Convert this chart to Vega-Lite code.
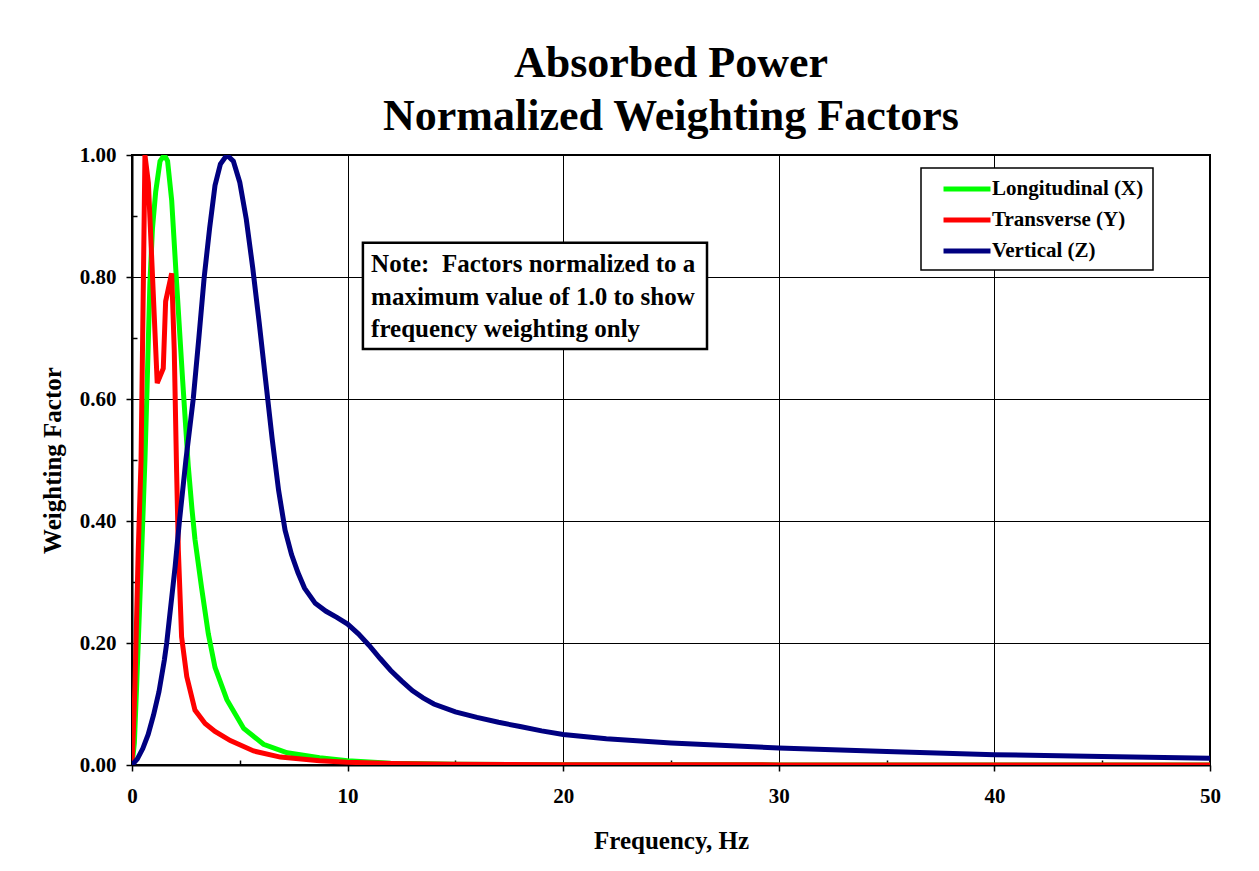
{
  "$schema": "https://vega.github.io/schema/vega-lite/v6.json",
  "width": 1078,
  "height": 610,
  "autosize": {"type": "none"},
  "padding": {"left": 132, "top": 155, "right": 49, "bottom": 106},
  "background": "white",
  "title": {
    "text": ["Absorbed Power", "Normalized Weighting Factors"],
    "font": "Liberation Serif",
    "fontSize": 44,
    "fontWeight": "bold",
    "lineHeight": 53,
    "anchor": "middle",
    "offset": 5,
    "color": "#000"
  },
  "datasets": {
    "curves": [
      {"f": 0, "w": 0, "series": "Longitudinal (X)"},
      {"f": 0.11, "w": 0.036, "series": "Longitudinal (X)"},
      {"f": 0.22, "w": 0.134, "series": "Longitudinal (X)"},
      {"f": 0.45, "w": 0.352, "series": "Longitudinal (X)"},
      {"f": 0.6, "w": 0.5, "series": "Longitudinal (X)"},
      {"f": 0.7, "w": 0.62, "series": "Longitudinal (X)"},
      {"f": 0.83, "w": 0.79, "series": "Longitudinal (X)"},
      {"f": 0.95, "w": 0.88, "series": "Longitudinal (X)"},
      {"f": 1.1, "w": 0.94, "series": "Longitudinal (X)"},
      {"f": 1.3, "w": 0.99, "series": "Longitudinal (X)"},
      {"f": 1.5, "w": 1.0, "series": "Longitudinal (X)"},
      {"f": 1.65, "w": 0.99, "series": "Longitudinal (X)"},
      {"f": 1.84, "w": 0.926, "series": "Longitudinal (X)"},
      {"f": 2.07, "w": 0.79, "series": "Longitudinal (X)"},
      {"f": 2.35, "w": 0.63, "series": "Longitudinal (X)"},
      {"f": 2.61, "w": 0.49, "series": "Longitudinal (X)"},
      {"f": 2.78, "w": 0.42, "series": "Longitudinal (X)"},
      {"f": 2.92, "w": 0.37, "series": "Longitudinal (X)"},
      {"f": 3.23, "w": 0.29, "series": "Longitudinal (X)"},
      {"f": 3.54, "w": 0.215, "series": "Longitudinal (X)"},
      {"f": 3.85, "w": 0.16, "series": "Longitudinal (X)"},
      {"f": 4.4, "w": 0.107, "series": "Longitudinal (X)"},
      {"f": 5.18, "w": 0.06, "series": "Longitudinal (X)"},
      {"f": 6.1, "w": 0.034, "series": "Longitudinal (X)"},
      {"f": 7.2, "w": 0.02, "series": "Longitudinal (X)"},
      {"f": 8.7, "w": 0.012, "series": "Longitudinal (X)"},
      {"f": 10, "w": 0.007, "series": "Longitudinal (X)"},
      {"f": 12, "w": 0.003, "series": "Longitudinal (X)"},
      {"f": 15, "w": 0.0012, "series": "Longitudinal (X)"},
      {"f": 20, "w": 0.0005, "series": "Longitudinal (X)"},
      {"f": 30, "w": 0.0002, "series": "Longitudinal (X)"},
      {"f": 50, "w": 0.0001, "series": "Longitudinal (X)"},

      {"f": 0, "w": 0, "series": "Transverse (Y)"},
      {"f": 0.07, "w": 0.06, "series": "Transverse (Y)"},
      {"f": 0.14, "w": 0.134, "series": "Transverse (Y)"},
      {"f": 0.29, "w": 0.352, "series": "Transverse (Y)"},
      {"f": 0.42, "w": 0.5, "series": "Transverse (Y)"},
      {"f": 0.53, "w": 0.8, "series": "Transverse (Y)"},
      {"f": 0.6, "w": 1.0, "series": "Transverse (Y)"},
      {"f": 0.76, "w": 0.954, "series": "Transverse (Y)"},
      {"f": 1.17, "w": 0.626, "series": "Transverse (Y)"},
      {"f": 1.45, "w": 0.65, "series": "Transverse (Y)"},
      {"f": 1.56, "w": 0.76, "series": "Transverse (Y)"},
      {"f": 1.84, "w": 0.806, "series": "Transverse (Y)"},
      {"f": 1.96, "w": 0.68, "series": "Transverse (Y)"},
      {"f": 2.07, "w": 0.48, "series": "Transverse (Y)"},
      {"f": 2.15, "w": 0.352, "series": "Transverse (Y)"},
      {"f": 2.3, "w": 0.21, "series": "Transverse (Y)"},
      {"f": 2.54, "w": 0.145, "series": "Transverse (Y)"},
      {"f": 2.92, "w": 0.09, "series": "Transverse (Y)"},
      {"f": 3.39, "w": 0.068, "series": "Transverse (Y)"},
      {"f": 3.85, "w": 0.055, "series": "Transverse (Y)"},
      {"f": 4.56, "w": 0.04, "series": "Transverse (Y)"},
      {"f": 5.64, "w": 0.023, "series": "Transverse (Y)"},
      {"f": 6.88, "w": 0.013, "series": "Transverse (Y)"},
      {"f": 8.7, "w": 0.007, "series": "Transverse (Y)"},
      {"f": 10, "w": 0.0045, "series": "Transverse (Y)"},
      {"f": 12, "w": 0.0025, "series": "Transverse (Y)"},
      {"f": 15, "w": 0.0012, "series": "Transverse (Y)"},
      {"f": 20, "w": 0.0006, "series": "Transverse (Y)"},
      {"f": 30, "w": 0.0002, "series": "Transverse (Y)"},
      {"f": 50, "w": 0.0001, "series": "Transverse (Y)"},

      {"f": 0, "w": 0, "series": "Vertical (Z)"},
      {"f": 0.25, "w": 0.01, "series": "Vertical (Z)"},
      {"f": 0.5, "w": 0.027, "series": "Vertical (Z)"},
      {"f": 0.75, "w": 0.05, "series": "Vertical (Z)"},
      {"f": 1.0, "w": 0.082, "series": "Vertical (Z)"},
      {"f": 1.25, "w": 0.12, "series": "Vertical (Z)"},
      {"f": 1.5, "w": 0.172, "series": "Vertical (Z)"},
      {"f": 1.61, "w": 0.2, "series": "Vertical (Z)"},
      {"f": 1.75, "w": 0.245, "series": "Vertical (Z)"},
      {"f": 2.0, "w": 0.325, "series": "Vertical (Z)"},
      {"f": 2.2, "w": 0.4, "series": "Vertical (Z)"},
      {"f": 2.5, "w": 0.5, "series": "Vertical (Z)"},
      {"f": 2.84, "w": 0.6, "series": "Vertical (Z)"},
      {"f": 3.1, "w": 0.7, "series": "Vertical (Z)"},
      {"f": 3.35, "w": 0.8, "series": "Vertical (Z)"},
      {"f": 3.6, "w": 0.88, "series": "Vertical (Z)"},
      {"f": 3.85, "w": 0.95, "series": "Vertical (Z)"},
      {"f": 4.1, "w": 0.985, "series": "Vertical (Z)"},
      {"f": 4.4, "w": 1.0, "series": "Vertical (Z)"},
      {"f": 4.7, "w": 0.99, "series": "Vertical (Z)"},
      {"f": 5.0, "w": 0.955, "series": "Vertical (Z)"},
      {"f": 5.3, "w": 0.895, "series": "Vertical (Z)"},
      {"f": 5.6, "w": 0.815, "series": "Vertical (Z)"},
      {"f": 5.9, "w": 0.725, "series": "Vertical (Z)"},
      {"f": 6.2, "w": 0.63, "series": "Vertical (Z)"},
      {"f": 6.5, "w": 0.535, "series": "Vertical (Z)"},
      {"f": 6.8, "w": 0.45, "series": "Vertical (Z)"},
      {"f": 7.1, "w": 0.385, "series": "Vertical (Z)"},
      {"f": 7.4, "w": 0.345, "series": "Vertical (Z)"},
      {"f": 7.7, "w": 0.315, "series": "Vertical (Z)"},
      {"f": 8.0, "w": 0.29, "series": "Vertical (Z)"},
      {"f": 8.5, "w": 0.265, "series": "Vertical (Z)"},
      {"f": 9.0, "w": 0.252, "series": "Vertical (Z)"},
      {"f": 9.5, "w": 0.242, "series": "Vertical (Z)"},
      {"f": 10, "w": 0.231, "series": "Vertical (Z)"},
      {"f": 10.5, "w": 0.215, "series": "Vertical (Z)"},
      {"f": 11, "w": 0.196, "series": "Vertical (Z)"},
      {"f": 11.5, "w": 0.175, "series": "Vertical (Z)"},
      {"f": 12, "w": 0.155, "series": "Vertical (Z)"},
      {"f": 12.5, "w": 0.138, "series": "Vertical (Z)"},
      {"f": 13, "w": 0.122, "series": "Vertical (Z)"},
      {"f": 13.5, "w": 0.11, "series": "Vertical (Z)"},
      {"f": 14, "w": 0.1, "series": "Vertical (Z)"},
      {"f": 15, "w": 0.087, "series": "Vertical (Z)"},
      {"f": 16, "w": 0.078, "series": "Vertical (Z)"},
      {"f": 17, "w": 0.07, "series": "Vertical (Z)"},
      {"f": 18, "w": 0.063, "series": "Vertical (Z)"},
      {"f": 19, "w": 0.056, "series": "Vertical (Z)"},
      {"f": 20, "w": 0.05, "series": "Vertical (Z)"},
      {"f": 22, "w": 0.043, "series": "Vertical (Z)"},
      {"f": 25, "w": 0.036, "series": "Vertical (Z)"},
      {"f": 30, "w": 0.028, "series": "Vertical (Z)"},
      {"f": 35, "w": 0.022, "series": "Vertical (Z)"},
      {"f": 40, "w": 0.017, "series": "Vertical (Z)"},
      {"f": 45, "w": 0.014, "series": "Vertical (Z)"},
      {"f": 50, "w": 0.011, "series": "Vertical (Z)"}
    ],
    "note": [
      {"x1": 10.71, "x2": 26.67, "y1": 0.682, "y2": 0.856, "tx": 11.09, "ty": 0.808,
       "text": "Note:\u00a0 Factors normalized to a\nmaximum value of 1.0 to show\nfrequency weighting only"}
    ]
  },
  "layer": [
    {
      "data": {"name": "curves"},
      "mark": {"type": "line", "strokeWidth": 5, "clip": true, "interpolate": "linear"},
      "encoding": {
        "x": {
          "field": "f", "type": "quantitative",
          "scale": {"domain": [0, 50], "nice": false},
          "axis": {
            "title": "Frequency, Hz",
            "values": [0, 5, 10, 15, 20, 25, 30, 35, 40, 45, 50],
            "labelExpr": "datum.value % 10 === 0 ? datum.label : ''",
            "labelFlush": false,
            "gridOpacity": {"condition": {"test": "datum.value % 10 === 0", "value": 1}, "value": 0},
            "tickSize": {"condition": {"test": "datum.value % 10 === 0", "value": 6}, "value": -5},
            "labelPadding": 14,
            "titlePadding": 22
          }
        },
        "y": {
          "field": "w", "type": "quantitative",
          "scale": {"domain": [0, 1], "nice": false},
          "axis": {
            "title": "Weighting Factor",
            "values": [0, 0.1, 0.2, 0.3, 0.4, 0.5, 0.6, 0.7, 0.8, 0.9, 1.0],
            "labelExpr": "round(datum.value * 10) % 2 === 0 ? format(datum.value, '.2f') : ''",
            "labelFlush": false,
            "gridOpacity": {"condition": {"test": "round(datum.value * 10) % 2 === 0", "value": 1}, "value": 0},
            "tickSize": {"condition": {"test": "round(datum.value * 10) % 2 === 0", "value": 6}, "value": -5},
            "labelPadding": 10,
            "titlePadding": 14
          }
        },
        "color": {
          "field": "series", "type": "nominal",
          "scale": {
            "domain": ["Longitudinal (X)", "Transverse (Y)", "Vertical (Z)"],
            "range": ["#00FF00", "#FF0000", "#000080"]
          },
          "legend": {
            "title": null,
            "orient": "none",
            "legendX": 789,
            "legendY": 13
          }
        }
      }
    },
    {
      "data": {"name": "note"},
      "mark": {"type": "rect", "fill": "white", "stroke": "#000", "strokeWidth": 2.5},
      "encoding": {
        "x": {"field": "x1", "type": "quantitative"},
        "x2": {"field": "x2"},
        "y": {"field": "y1", "type": "quantitative"},
        "y2": {"field": "y2"}
      }
    },
    {
      "data": {"name": "note"},
      "mark": {
        "type": "text", "align": "left", "baseline": "alphabetic",
        "font": "Liberation Serif", "fontWeight": "bold", "fontSize": 25,
        "lineBreak": "\n", "lineHeight": 32.5, "color": "#000"
      },
      "encoding": {
        "x": {"field": "tx", "type": "quantitative"},
        "y": {"field": "ty", "type": "quantitative"},
        "text": {"field": "text"}
      }
    }
  ],
  "config": {
    "view": {"stroke": "#000", "strokeWidth": 2},
    "axis": {
      "domainColor": "#000",
      "domainWidth": 2,
      "tickColor": "#000",
      "tickWidth": 1.5,
      "gridColor": "#000",
      "gridWidth": 1,
      "labelFont": "Liberation Serif",
      "labelFontWeight": "bold",
      "labelFontSize": 21,
      "labelColor": "#000",
      "titleFont": "Liberation Serif",
      "titleFontWeight": "bold",
      "titleFontSize": 25,
      "titleColor": "#000"
    },
    "legend": {
      "fillColor": "white",
      "strokeColor": "#000",
      "strokeWidth": 1.5,
      "padding": 9,
      "rowPadding": 9,
      "symbolType": "M-2.5,0H2.5",
      "symbolSize": 353,
      "symbolStrokeWidth": 5,
      "symbolOffset": 25,
      "labelOffset": 13,
      "labelFont": "Liberation Serif",
      "labelFontWeight": "bold",
      "labelFontSize": 21,
      "labelColor": "#000",
      "labelLimit": 400
    }
  }
}
